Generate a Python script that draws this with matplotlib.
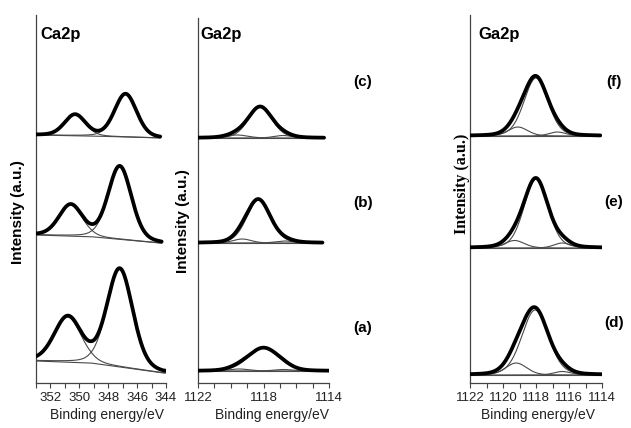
import numpy as np
import matplotlib
matplotlib.use("Agg")
import matplotlib.pyplot as plt

plt.rcParams['font.family'] = ['Liberation Sans', 'DejaVu Sans']

# ---------------- data ----------------
# Ca2p panel, spectra (c), (b), (a) from top to bottom; two peaks each
ca_centers = [[350.3, 346.8], [350.6, 347.2], [350.8, 347.2]]
ca_heights = [[21, 43], [31, 73], [45, 98]]
ca_fwhm = [[1.7, 1.8], [1.9, 1.9], [2.2, 2.1]]
ca_bg_energy = [353.0, 349.2, 344.2]
ca_bg_levels = [[248, 247, 245], [148, 146.3, 139.7], [22, 20, 10]]
ca_end = [344.4, 344.3, 344.0]
ca_ticks = [353, 352, 351, 350, 349, 348, 347, 346, 345, 344]
ca_ticklabels = ['', '352', '', '350', '', '348', '', '346', '', '344']

# Ga2p middle panel, spectra (c), (b), (a); main peak + two small components
gm_labels = ['(c)', '(b)', '(a)']
gm_main_c = [1118.2, 1118.3, 1118.0]
gm_main_h = [31, 43, 23]
gm_main_w = [1.7, 1.7, 2.2]
gm_s1_c = [1119.6, 1119.3, 1119.5]
gm_s1_h = [3, 4, 2]
gm_s1_w = [1.5, 1.3, 1.5]
gm_s2_c = [1116.8, 1116.7, 1116.8]
gm_s2_h = [2.5, 2, 1.5]
gm_s2_w = [1.3, 1.3, 1.3]
gm_base = [245, 140, 12]
gm_end = [1114.3, 1114.4, 1114.0]
gm_ticks = [1122, 1121, 1120, 1119, 1118, 1117, 1116, 1115, 1114]
gm_ticklabels = ['1122', '', '', '', '1118', '', '', '', '1114']

# Ga2p right panel, spectra (f), (e), (d)
gr_labels = ['(f)', '(e)', '(d)']
gr_main_c = [1118.0, 1118.0, 1118.05]
gr_main_h = [58, 69, 65]
gr_main_w = [1.7, 1.7, 1.9]
gr_s1_c = [1119.1, 1119.3, 1119.2]
gr_s1_h = [9, 7.5, 12]
gr_s1_w = [1.4, 1.4, 1.5]
gr_s2_c = [1116.7, 1116.4, 1116.4]
gr_s2_h = [4, 5, 3.5]
gr_s2_w = [1.2, 1.2, 1.2]
gr_base = [247, 135, 8]
gr_end = [1114.1, 1114.0, 1114.0]
gr_ticks = [1122, 1121, 1120, 1119, 1118, 1117, 1116, 1115, 1114]
gr_ticklabels = ['1122', '', '1120', '', '1118', '', '1116', '', '1114']

ETA = 0.2  # Gaussian-Lorentzian mixing of the fitted line shape


def peak(E, c, h, w):
    x = (E - c) / w
    g = np.exp(-4 * np.log(2) * x ** 2)
    l = 1.0 / (1 + 4 * x ** 2)
    return h * ((1 - ETA) * g + ETA * l)


W, H = 631, 428
fig = plt.figure(figsize=(W / 100, H / 100), dpi=100)


def px_axes(l, r, top, bottom):
    return fig.add_axes([l / W, 1 - bottom / H, (r - l) / W, (bottom - top) / H])


def style(ax, xlim, ylim, ticks, labels):
    ax.set_xlim(*xlim)
    ax.set_ylim(*ylim)
    for s in ['top', 'right']:
        ax.spines[s].set_visible(False)
    for s in ['left', 'bottom']:
        ax.spines[s].set_color('#444444')
        ax.spines[s].set_linewidth(0.9)
    ax.set_yticks([])
    ax.set_xticks(ticks)
    ax.set_xticklabels(labels)
    ax.tick_params(axis='x', direction='out', length=3.5, width=0.8,
                   color='#444444', labelsize=9.5, pad=3, labelcolor='#222222')
    ax.patch.set_alpha(0)


THICK = dict(color='black', lw=2.7, solid_capstyle='round', zorder=3)
THIN = dict(color='#4a4a4a', lw=0.8, zorder=2)

# ---------------- Ca2p ----------------
ax1 = px_axes(36, 166, 15, 383)
style(ax1, (353, 344), (0, 368), ca_ticks, ca_ticklabels)
for i in range(3):
    E = np.linspace(353, ca_end[i], 400)
    bg = np.interp(-E, [-e for e in ca_bg_energy], ca_bg_levels[i])
    p1 = peak(E, ca_centers[i][0], ca_heights[i][0], ca_fwhm[i][0])
    p2 = peak(E, ca_centers[i][1], ca_heights[i][1], ca_fwhm[i][1])
    ax1.plot(E, bg, **THIN)
    ax1.plot(E, bg + p1, **THIN)
    ax1.plot(E, bg + p2, **THIN)
    ax1.plot(E, bg + p1 + p2, **THICK)

# ---------------- Ga2p middle ----------------
ax2 = px_axes(198, 329, 18, 383)
style(ax2, (1122, 1114), (0, 365), gm_ticks, gm_ticklabels)
for i in range(3):
    E = np.linspace(1122, gm_end[i], 400)
    b = np.full_like(E, gm_base[i])
    m = peak(E, gm_main_c[i], gm_main_h[i], gm_main_w[i])
    s1 = peak(E, gm_s1_c[i], gm_s1_h[i], gm_s1_w[i])
    s2 = peak(E, gm_s2_c[i], gm_s2_h[i], gm_s2_w[i])
    ax2.plot(E, b, **THIN)
    ax2.plot(E, b + m, **THIN)
    ax2.plot(E, b + s1, **THIN)
    ax2.plot(E, b + s2, **THIN)
    ax2.plot(E, b + m + s1 + s2, **THICK)

# ---------------- Ga2p right ----------------
ax3 = px_axes(470, 602, 15, 383)
style(ax3, (1122, 1114), (0, 368), gr_ticks, gr_ticklabels)
for i in range(3):
    E = np.linspace(1122, gr_end[i], 400)
    b = np.full_like(E, gr_base[i])
    m = peak(E, gr_main_c[i], gr_main_h[i], gr_main_w[i])
    s1 = peak(E, gr_s1_c[i], gr_s1_h[i], gr_s1_w[i])
    s2 = peak(E, gr_s2_c[i], gr_s2_h[i], gr_s2_w[i])
    ax3.plot(E, b, **THIN)
    ax3.plot(E, b + m, **THIN)
    ax3.plot(E, b + s1, **THIN)
    ax3.plot(E, b + s2, **THIN)
    ax3.plot(E, b + m + s1 + s2, **THICK)


# ---------------- texts ----------------
def ftext(x, y, s, **kw):
    fig.text(x / W, 1 - y / H, s, **kw)


for x, t in [(40, 'Ca2p'), (200, 'Ga2p'), (478, 'Ga2p')]:
    ftext(x, 34, t, fontsize=12, fontweight='bold', ha='left', va='center')

for lab, y in zip(gm_labels, [82, 203, 328]):
    ftext(363, y, lab, fontsize=11, fontweight='bold', ha='center', va='center')
for lab, y in zip(gr_labels, [82, 202, 323]):
    ftext(614, y, lab, fontsize=11, fontweight='bold', ha='center', va='center')

ftext(18, 212, 'Intensity (a.u.)', fontsize=11, fontweight='bold',
      rotation=90, ha='center', va='center')
ftext(183, 221, 'Intensity (a.u.)', fontsize=11, fontweight='bold',
      rotation=90, ha='center', va='center')
ftext(462, 184, 'Intensity (a.u.)', fontsize=11.5, fontweight='bold',
      rotation=90, ha='center', va='center', family=['Liberation Serif', 'DejaVu Serif'])

for x in [107, 272, 538]:
    ftext(x, 415, 'Binding energy/eV', fontsize=10, ha='center', va='center',
          color='#222222')

fig.savefig('out.png', dpi=100)
